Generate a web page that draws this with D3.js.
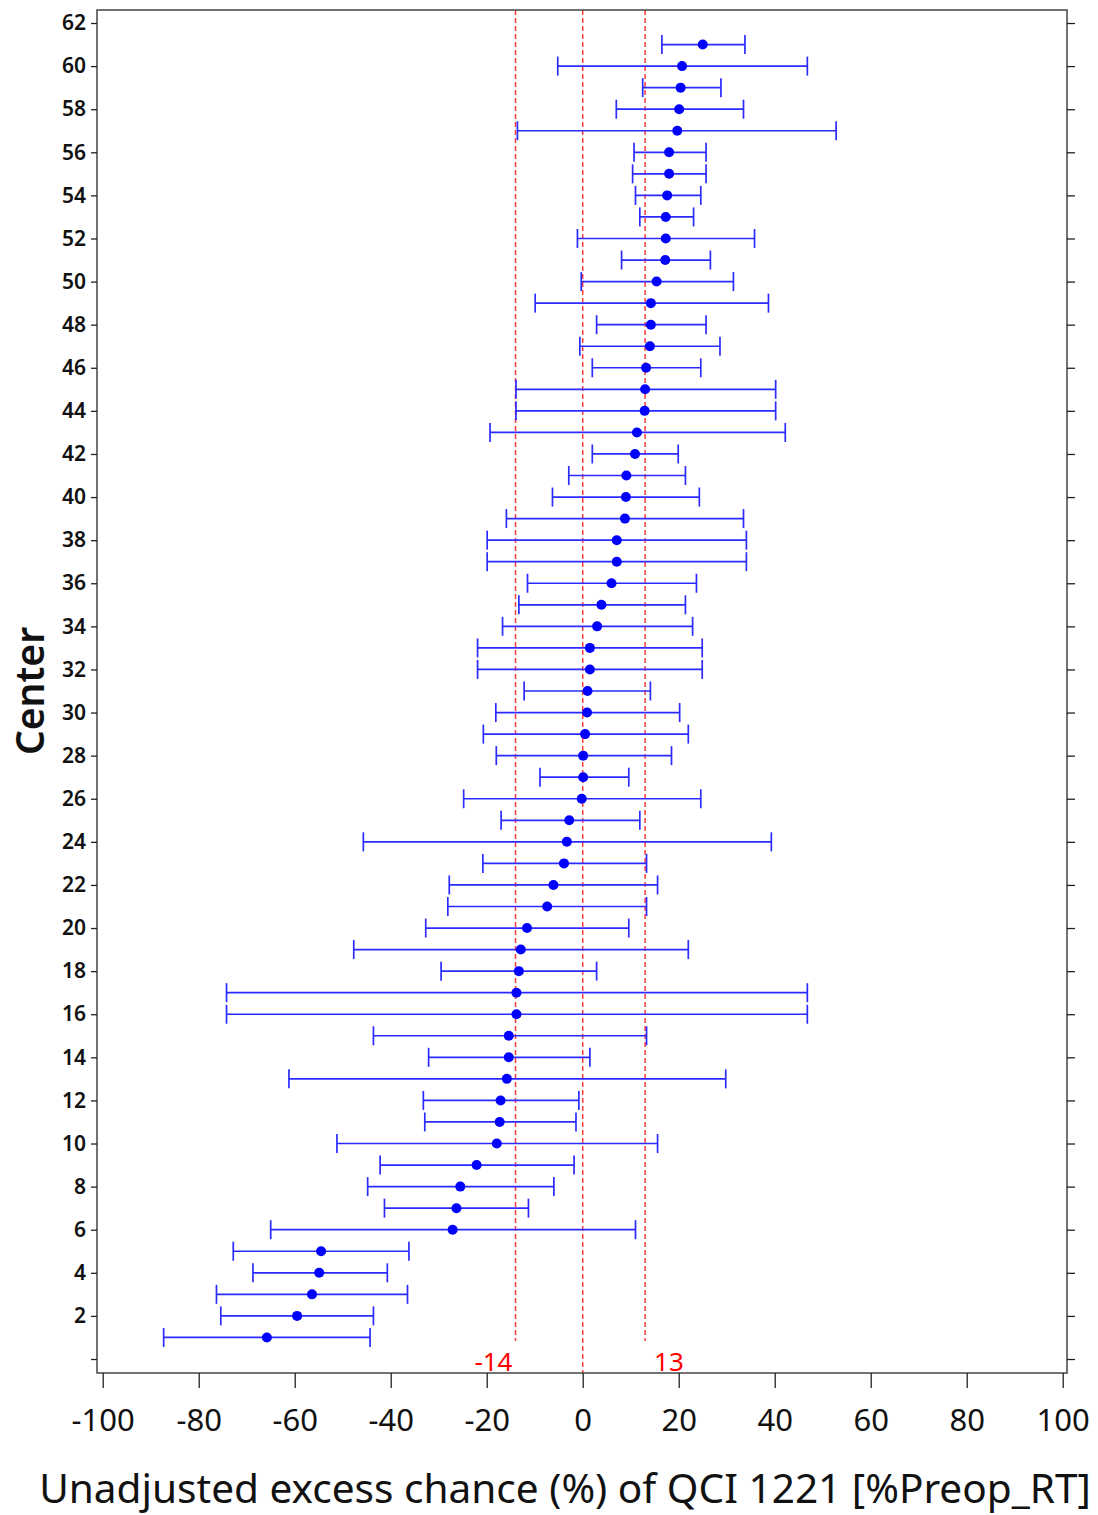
<!DOCTYPE html>
<html>
<head>
<meta charset="utf-8">
<script src="https://cdn.jsdelivr.net/npm/d3@7"></script>
<style>
  html, body { margin: 0; padding: 0; background: #fff; }
  svg { display: block; }
</style>
</head>
<body>
<svg id="chart" width="1098" height="1515"></svg>
<script>
// Centers, bottom to top
const centers = [1,2,3,4,5,6,7,8,9,10,11,12,13,14,15,16,17,18,19,20,
  21,22,23,24,25,26,27,28,29,30,31,32,33,34,35,36,37,38,39,40,
  41,42,43,44,45,46,47,48,49,50,51,52,53,54,55,56,57,58,59,60,61];

// Unadjusted excess chance (%) per center, with interval limits
const estimate = [-65.8, -59.5, -56.4, -54.9, -54.5, -27.1, -26.3, -25.5, -22.1, -17.9,
  -17.3, -17.1, -15.8, -15.4, -15.4, -13.8, -13.8, -13.3, -12.9, -11.6,
  -7.4, -6.1, -3.9, -3.3, -2.8, -0.2, 0.1, 0.1, 0.5, 0.9,
  1.0, 1.5, 1.5, 3.0, 3.9, 6.0, 7.1, 7.1, 8.8, 9.0,
  9.1, 10.9, 11.3, 12.9, 13.0, 13.2, 14.0, 14.2, 14.2, 15.4,
  17.2, 17.3, 17.3, 17.6, 18.0, 18.0, 19.7, 20.1, 20.4, 20.7, 25.0];

const lower = [-87.3, -75.4, -76.3, -68.7, -72.8, -65.0, -41.3, -44.8, -42.2, -51.2,
  -32.9, -33.2, -61.2, -32.1, -43.6, -74.2, -74.2, -29.5, -47.7, -32.7,
  -28.1, -27.8, -20.8, -45.7, -17.0, -24.8, -8.9, -18.0, -20.7, -18.1,
  -12.2, -21.9, -21.9, -16.7, -13.3, -11.5, -19.9, -19.9, -15.9, -6.3,
  -2.9, 2.0, -19.3, -13.9, -13.9, 2.0, -0.6, 2.9, -9.9, -0.3,
  8.1, -1.1, 11.9, 11.0, 10.4, 10.7, -13.6, 7.0, 12.5, -5.2, 16.5];

const upper = [-44.3, -43.6, -36.5, -40.7, -36.2, 11.0, -11.3, -6.0, -1.8, 15.6,
  -1.4, -0.8, 29.8, 1.5, 13.3, 46.8, 46.8, 2.9, 22.0, 9.6,
  13.3, 15.6, 13.3, 39.3, 11.9, 24.6, 9.6, 18.5, 22.0, 20.2,
  14.1, 24.9, 24.9, 22.9, 21.4, 23.7, 34.1, 34.1, 33.5, 24.3,
  21.4, 19.9, 42.2, 40.2, 40.2, 24.6, 28.6, 25.7, 38.7, 31.4,
  26.6, 35.8, 23.1, 24.6, 25.7, 25.7, 52.8, 33.5, 28.8, 46.8, 33.8];

// Reference lines: lower limit, zero, upper limit
const refValues = [-14, 0, 13];
const refLabels = ["-14", "", "13"];

const xTicks = [-100, -80, -60, -40, -20, 0, 20, 40, 60, 80, 100];
const yTicks = [0,2,4,6,8,10,12,14,16,18,20,22,24,26,28,30,32,34,36,38,40,
  42,44,46,48,50,52,54,56,58,60,62];

const xTitle = "Unadjusted excess chance (%) of QCI 1221 [%Preop_RT]";
const yTitle = "Center";

const rows = centers.map((c, i) => ({ center: c, est: estimate[i], lo: lower[i], hi: upper[i] }));

const svg = d3.select("#chart");

// Frame of the plotting area
const frame = { left: 97, right: 1067, top: 10, bottom: 1373 };

const x = d3.scaleLinear().domain([-100, 100]).range([102.7, 1062.7]);
const y = d3.scaleLinear().domain([0, 62]).range([1359, 23]);

const barColor = "#2b2bff";
const dotColor = "#0000ff";
const refColor = "#ff3a3a";
const font = "'Noto Sans', 'Open Sans', 'DejaVu Sans', sans-serif";

// Reference lines
const refG = svg.append("g");
refValues.forEach((v, i) => {
  const labelled = refLabels[i] !== "";
  refG.append("line")
    .attr("x1", x(v)).attr("x2", x(v))
    .attr("y1", frame.top).attr("y2", labelled ? 1341 : frame.bottom)
    .attr("stroke", refColor)
    .attr("stroke-width", 1.5)
    .attr("stroke-dasharray", "5,3");
  if (labelled) {
    refG.append("text")
      .attr("x", v < 0 ? x(v) - 3 : x(v) + 9)
      .attr("y", 1371)
      .attr("text-anchor", v < 0 ? "end" : "start")
      .attr("fill", "#ff0000")
      .style("font-family", font)
      .style("font-size", "26px")
      .text(refLabels[i]);
  }
});

// Error bars with caps
const capHalf = 9.5;
const bars = svg.append("g")
  .attr("stroke", barColor)
  .attr("stroke-width", 1.7)
  .attr("fill", "none");

bars.selectAll("line.span").data(rows).join("line")
  .attr("class", "span")
  .attr("x1", d => x(d.lo)).attr("x2", d => x(d.hi))
  .attr("y1", d => y(d.center)).attr("y2", d => y(d.center));

bars.selectAll("line.caplo").data(rows).join("line")
  .attr("class", "caplo")
  .attr("x1", d => x(d.lo)).attr("x2", d => x(d.lo))
  .attr("y1", d => y(d.center) - capHalf).attr("y2", d => y(d.center) + capHalf);

bars.selectAll("line.caphi").data(rows).join("line")
  .attr("class", "caphi")
  .attr("x1", d => x(d.hi)).attr("x2", d => x(d.hi))
  .attr("y1", d => y(d.center) - capHalf).attr("y2", d => y(d.center) + capHalf);

// Point estimates
svg.append("g").selectAll("circle").data(rows).join("circle")
  .attr("cx", d => x(d.est))
  .attr("cy", d => y(d.center))
  .attr("r", 5)
  .attr("fill", dotColor);

// Frame
svg.append("rect")
  .attr("x", frame.left).attr("y", frame.top)
  .attr("width", frame.right - frame.left)
  .attr("height", frame.bottom - frame.top)
  .attr("fill", "none")
  .attr("stroke", "#444")
  .attr("stroke-width", 1.5);

// Left axis with labels
const yAxisL = svg.append("g")
  .attr("transform", `translate(${frame.left},0)`)
  .call(d3.axisLeft(y).tickValues(yTicks).tickSize(6).tickPadding(5)
    .tickFormat(d => d === 0 ? "" : d));
yAxisL.select(".domain").remove();
yAxisL.selectAll(".tick line").attr("stroke", "#222").attr("stroke-width", 1.3);
yAxisL.selectAll(".tick text")
  .attr("fill", "#111")
  .style("font-family", font)
  .style("font-size", "21px")
  .style("font-weight", "600");

// Right axis, ticks only
const yAxisR = svg.append("g")
  .attr("transform", `translate(${frame.right},0)`)
  .call(d3.axisRight(y).tickValues(yTicks).tickSize(8).tickFormat(""));
yAxisR.select(".domain").remove();
yAxisR.selectAll(".tick line").attr("stroke", "#222").attr("stroke-width", 1.3);

// Bottom axis
const xAxis = svg.append("g")
  .attr("transform", `translate(0,${frame.bottom})`)
  .call(d3.axisBottom(x).tickValues(xTicks).tickSize(15).tickPadding(21)
    .tickFormat(d => String(d)));
xAxis.select(".domain").remove();
xAxis.selectAll(".tick line").attr("stroke", "#222").attr("stroke-width", 1.3);
xAxis.selectAll(".tick text")
  .attr("fill", "#111")
  .style("font-family", font)
  .style("font-size", "31px");

// Axis titles
const xt = svg.append("text")
  .attr("x", 565).attr("y", 1503)
  .attr("text-anchor", "middle")
  .attr("fill", "#111")
  .style("font-family", font)
  .style("font-size", "37px")
  .text(xTitle);
// keep the title within its band
const xtw = xt.node().getComputedTextLength();
if (xtw > 0) xt.style("font-size", (37 * 1052 / xtw).toFixed(2) + "px");

svg.append("text")
  .attr("transform", "translate(44,691) rotate(-90)")
  .attr("text-anchor", "middle")
  .attr("fill", "#111")
  .style("font-family", font)
  .style("font-size", "39px")
  .style("font-weight", "600")
  .text(yTitle);
</script>
</body>
</html>
